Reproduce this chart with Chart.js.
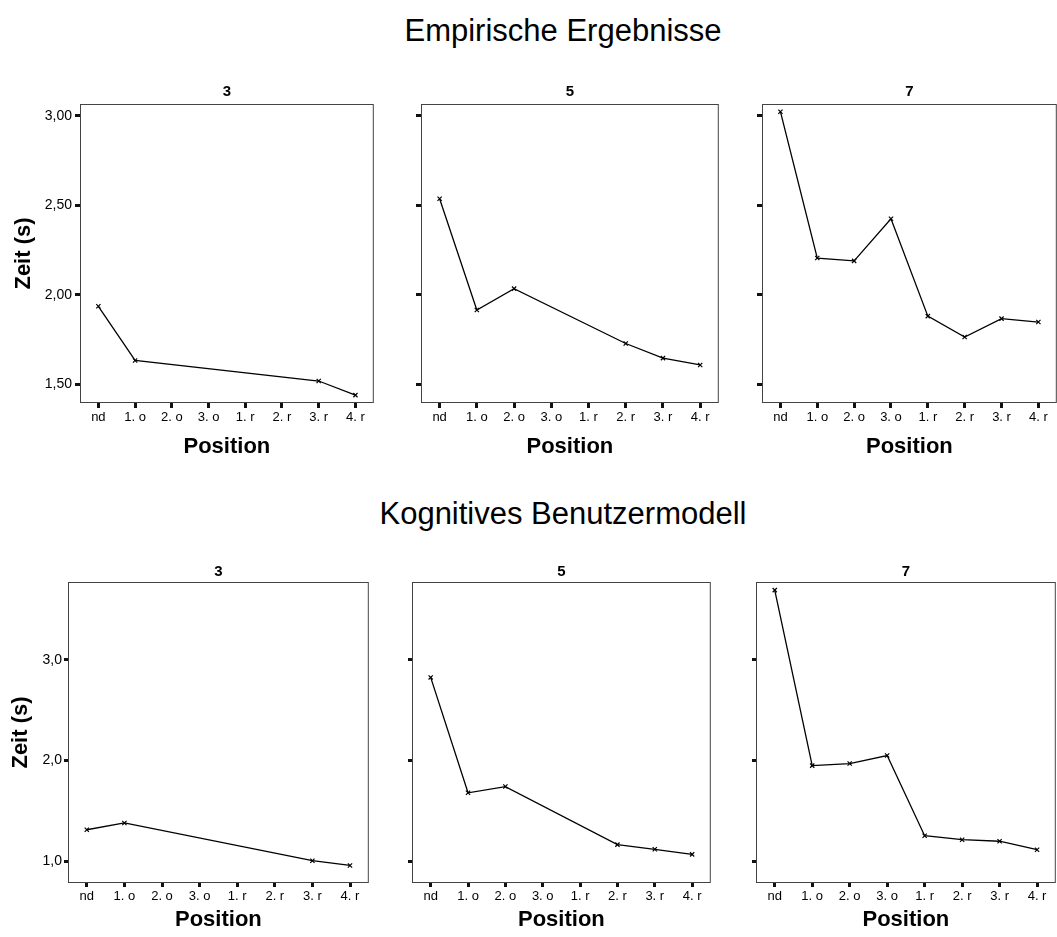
<!DOCTYPE html>
<html>
<head>
<meta charset="utf-8">
<script src="https://cdn.jsdelivr.net/npm/chart.js@4"></script>
<style>
  html, body { margin:0; padding:0; background:#fff; width:1057px; height:937px; overflow:hidden; position:relative; }
  .main-title { position:absolute; left:0; width:1126px; text-align:center; font-family:"Liberation Sans", Arial, sans-serif; font-size:31px; color:#000; line-height:36px; }
  canvas { position:absolute; }
</style>
</head>
<body>
<div class="main-title" style="top:13px;">Empirische Ergebnisse</div>
<div class="main-title" style="top:496px;">Kognitives Benutzermodell</div>

<canvas id="c1"></canvas>
<canvas id="c2"></canvas>
<canvas id="c3"></canvas>
<canvas id="c4"></canvas>
<canvas id="c5"></canvas>
<canvas id="c6"></canvas>

<script>
// ---- data ----
const positions = ['nd', '1. o', '2. o', '3. o', '1. r', '2. r', '3. r', '4. r'];

const empirisch3 = [1.935, 1.632, null, null, null, null, 1.517, 1.438];
const empirisch5 = [2.537, 1.914, 2.034, null, null, 1.727, 1.645, 1.607];
const empirisch7 = [3.024, 2.205, 2.189, 2.425, 1.880, 1.763, 1.866, 1.847];

const modell3 = [1.314, 1.381, null, null, null, null, 1.007, 0.960];
const modell5 = [2.824, 1.680, 1.742, null, null, 1.166, 1.120, 1.070];
const modell7 = [3.689, 1.950, 1.970, 2.050, 1.255, 1.215, 1.200, 1.116];

const topTicks = [1.5, 2.0, 2.5, 3.0];
const topTickLabels = ['1,50', '2,00', '2,50', '3,00'];
const bottomTicks = [1.0, 2.0, 3.0];
const bottomTickLabels = ['1,0', '2,0', '3,0'];

const panelTitles = ['3', '5', '7'];

// ---- rendering ----
Chart.defaults.font.family = '"Liberation Sans", Arial, sans-serif';
Chart.defaults.color = '#000';

const framePlugin = {
  id: 'frame',
  beforeDatasetsDraw(chart) {
    const {ctx, chartArea: a} = chart;
    ctx.save();
    ctx.strokeStyle = '#444';
    ctx.lineWidth = 1;
    ctx.strokeRect(a.left + 0.5, a.top + 0.5, a.right - a.left - 1, a.bottom - a.top - 1);
    ctx.restore();
  }
};

const TITLE_SIZE = 15;

function makePanel(o) {
  const cv = document.getElementById(o.id);
  const titleH = TITLE_SIZE * 1.2 + o.titlePadTop + o.titlePadBottom;
  const plotW = o.plotRight - o.plotLeft;
  const plotH = o.plotBottom - o.plotTop;
  const w = o.yW + plotW + 2;
  const h = titleH + plotH + o.xH;
  cv.width = Math.round(w);
  cv.height = Math.round(h);
  cv.style.left = (o.plotLeft - o.yW) + 'px';
  cv.style.top = (o.plotTop - titleH) + 'px';
  cv.style.width = Math.round(w) + 'px';
  cv.style.height = Math.round(h) + 'px';

  const tickGrid = {
    display: true, drawOnChartArea: false, drawTicks: true,
    tickLength: o.tickLen, tickWidth: 3, tickColor: '#111', offset: false
  };

  new Chart(cv, {
    type: 'line',
    data: {
      labels: positions,
      datasets: [{
        data: o.data,
        borderColor: '#000',
        borderWidth: 1.3,
        tension: 0,
        spanGaps: true,
        pointStyle: 'crossRot',
        pointRadius: 3,
        pointBorderWidth: 1.2,
        pointBorderColor: '#000',
        pointBackgroundColor: '#000'
      }]
    },
    options: {
      responsive: false,
      animation: false,
      devicePixelRatio: 1,
      layout: { padding: { top: 0, left: 0, right: 2, bottom: 0 } },
      plugins: {
        legend: { display: false },
        tooltip: { enabled: false },
        title: {
          display: true, text: o.title, fullSize: false,
          font: { size: TITLE_SIZE, weight: 'bold' }, color: '#000',
          padding: { top: o.titlePadTop, bottom: o.titlePadBottom }
        }
      },
      scales: {
        x: {
          type: 'category', offset: true,
          grid: tickGrid,
          border: { display: false },
          ticks: { font: { size: 13 }, color: '#000', padding: 2, maxRotation: 0, autoSkip: false },
          title: {
            display: true, text: 'Position', color: '#000',
            font: { size: 22, weight: 'bold' },
            padding: { top: 0, bottom: o.xTitlePad }
          },
          afterFit: s => { s.height = o.xH; }
        },
        y: {
          type: 'linear', min: o.yMin, max: o.yMax,
          afterBuildTicks: s => { s.ticks = o.yTicks.map(v => ({ value: v })); },
          grid: tickGrid,
          border: { display: false },
          ticks: {
            font: { size: 14 }, color: '#000', padding: o.yTickPad,
            callback: (v, i) => o.showY ? o.yLabels[i] : ''
          },
          title: {
            display: o.showY, text: 'Zeit (s)', color: '#000',
            font: { size: 22, weight: 'bold' },
            padding: { top: o.yTitlePad, bottom: 0 }
          },
          afterFit: s => { s.width = o.yW; }
        }
      }
    },
    plugins: [framePlugin]
  });
}

const topRow = { plotTop: 104, plotBottom: 403, xH: 60, xTitlePad: 3, titlePadTop: 1, titlePadBottom: 3,
  yMin: 1.394, yMax: 3.067, yTicks: topTicks, yLabels: topTickLabels, tickLen: 5, yTickPad: 3 };
const botRow = { plotTop: 582, plotBottom: 883, xH: 52, xTitlePad: 2, titlePadTop: 1, titlePadBottom: 1,
  yMin: 0.786, yMax: 3.77, yTicks: bottomTicks, yLabels: bottomTickLabels, tickLen: 4, yTickPad: 2 };

makePanel(Object.assign({}, topRow, { id: 'c1', title: panelTitles[0], data: empirisch3, plotLeft: 80, plotRight: 377, yW: 80, showY: true, yTitlePad: 11 }));
makePanel(Object.assign({}, topRow, { id: 'c2', title: panelTitles[1], data: empirisch5, plotLeft: 421, plotRight: 722, yW: 10, showY: false, yTitlePad: 0 }));
makePanel(Object.assign({}, topRow, { id: 'c3', title: panelTitles[2], data: empirisch7, plotLeft: 762, plotRight: 1060, yW: 10, showY: false, yTitlePad: 0 }));

makePanel(Object.assign({}, botRow, { id: 'c4', title: panelTitles[0], data: modell3, plotLeft: 68, plotRight: 372, yW: 68, showY: true, yTitlePad: 8 }));
makePanel(Object.assign({}, botRow, { id: 'c5', title: panelTitles[1], data: modell5, plotLeft: 412, plotRight: 714, yW: 10, showY: false, yTitlePad: 0 }));
makePanel(Object.assign({}, botRow, { id: 'c6', title: panelTitles[2], data: modell7, plotLeft: 756, plotRight: 1059, yW: 10, showY: false, yTitlePad: 0 }));
</script>
</body>
</html>
